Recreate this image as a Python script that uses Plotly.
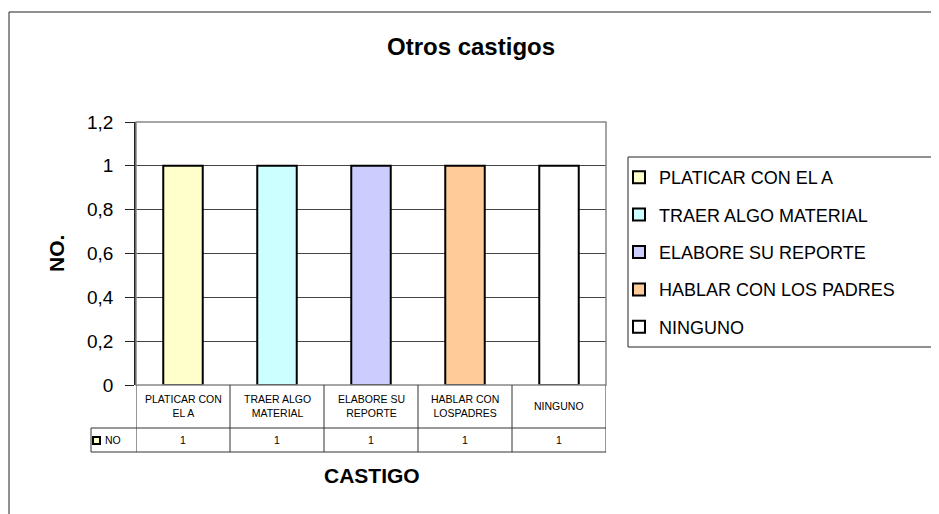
import plotly.graph_objects as go

# data
categories = ["PLATICAR CON EL A", "TRAER ALGO MATERIAL", "ELABORE SU REPORTE",
              "HABLAR CON LOS PADRES", "NINGUNO"]
table_labels = ["PLATICAR CON<br>EL A", "TRAER ALGO<br>MATERIAL", "ELABORE SU<br>REPORTE",
                "HABLAR CON<br>LOSPADRES", "NINGUNO"]
values = [1, 1, 1, 1, 1]
colors = ["#FFFFCC", "#CCFFFF", "#CCCCFF", "#FFCC99", "#FFFFFF"]
series_name = "NO"

FONT = "Arial, Liberation Sans, sans-serif"

# page offset (body margin) and plot area in screen pixels
OFF = 8
L, R, T, B = 136, 606, 122, 385
W, H = 939 - OFF, 514 - OFF


def pxx(p):
    return (p - L) / (R - L)


def pxy(p):
    return (B - p) / (B - T)


fig = go.Figure()
for i, cat in enumerate(categories):
    fig.add_trace(go.Bar(
        x=[i], y=[values[i]], name=cat, width=0.42,
        marker=dict(color=colors[i], line=dict(color="black", width=2)),
        legendgroup=cat,
    ))

shapes = []
line_c = "#333333"
# outer frame
shapes.append(dict(type="rect", xref="paper", yref="paper",
                   x0=pxx(9), x1=pxx(960), y0=pxy(540), y1=pxy(12),
                   line=dict(color="#222222", width=1), layer="below"))
# plot border (grey)
shapes.append(dict(type="rect", xref="paper", yref="paper", x0=0, x1=1, y0=0, y1=1,
                   line=dict(color="#888888", width=1.5)))
# legend frame
shapes.append(dict(type="rect", xref="paper", yref="paper",
                   x0=pxx(628), x1=pxx(960), y0=pxy(347), y1=pxy(157),
                   line=dict(color="#222222", width=1), fillcolor="white", layer="below"))
# data table lines
row1, row2 = 428, 452
for yy in (row1, row2):
    shapes.append(dict(type="line", xref="paper", yref="paper",
                       x0=pxx(91), x1=1, y0=pxy(yy), y1=pxy(yy),
                       line=dict(color=line_c, width=1)))
for k in range(len(categories) + 1):
    shapes.append(dict(type="line", xref="x", yref="paper",
                       x0=k - 0.5, x1=k - 0.5, y0=pxy(385), y1=pxy(row2),
                       line=dict(color=line_c, width=1)))
shapes.append(dict(type="line", xref="paper", yref="paper",
                   x0=pxx(91), x1=pxx(91), y0=pxy(row1), y1=pxy(row2),
                   line=dict(color=line_c, width=1)))
# legend key in table
shapes.append(dict(type="rect", xref="paper", yref="paper",
                   x0=pxx(93), x1=pxx(100), y0=pxy(444), y1=pxy(437),
                   fillcolor=colors[0], line=dict(color="black", width=2)))

small = dict(size=10.5, family=FONT, color="black")
annotations = []
for i, lab in enumerate(table_labels):
    annotations.append(dict(x=i, y=pxy(406), xref="x", yref="paper", text=lab,
                            xanchor="center", yanchor="middle",
                            showarrow=False, font=small, align="center"))
    annotations.append(dict(x=i, y=pxy(440), xref="x", yref="paper", text=str(values[i]),
                            xanchor="center", yanchor="middle",
                            showarrow=False, font=small))
annotations.append(dict(x=pxx(103), y=pxy(440), xref="paper", yref="paper", text=series_name,
                        xanchor="left", yanchor="middle", showarrow=False, font=small))
annotations.append(dict(x=pxx(471), y=pxy(47), xref="paper", yref="paper",
                        text="<b>Otros castigos</b>", showarrow=False,
                        xanchor="center", yanchor="middle",
                        font=dict(size=24, family=FONT, color="black")))
annotations.append(dict(x=pxx(372), y=pxy(475), xref="paper", yref="paper",
                        text="<b>CASTIGO</b>", showarrow=False,
                        xanchor="center", yanchor="middle",
                        font=dict(size=21, family=FONT, color="black")))
annotations.append(dict(x=pxx(56), y=pxy(254), xref="paper", yref="paper",
                        text="<b>NO.</b>", showarrow=False, textangle=-90,
                        xanchor="center", yanchor="middle",
                        font=dict(size=21, family=FONT, color="black")))

fig.update_layout(
    width=W, height=H,
    margin=dict(l=L - OFF, r=W - (R - OFF), t=T - OFF, b=H - (B - OFF), autoexpand=False),
    paper_bgcolor="white", plot_bgcolor="white",
    barmode="overlay",
    separators=",.",
    showlegend=True,
    legend=dict(x=pxx(619), y=pxy(159), xanchor="left", yanchor="top",
                borderwidth=0, bgcolor="rgba(0,0,0,0)",
                font=dict(size=18, family=FONT, color="black"),
                tracegroupgap=11, itemwidth=30),
    xaxis=dict(range=[-0.5, 4.5], showticklabels=False, showgrid=False,
               zeroline=False, showline=False, ticks=""),
    yaxis=dict(range=[0, 1.2], dtick=0.2, tick0=0, showgrid=True, gridcolor="#444444",
               gridwidth=1, zeroline=False, showline=True, linecolor="#222222", linewidth=1.5,
               ticks="outside", ticklen=9, tickcolor="#222222", ticklabelstandoff=8,
               tickfont=dict(size=19, family=FONT, color="black")),
    shapes=shapes, annotations=annotations,
    font=dict(family=FONT),
)

fig.write_html("out.html")
